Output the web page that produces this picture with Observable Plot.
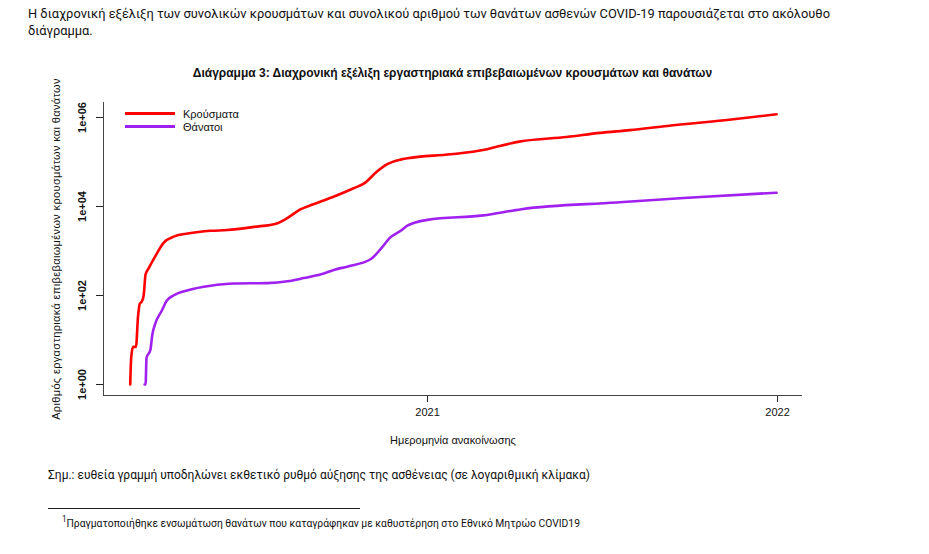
<!DOCTYPE html>
<html><head><meta charset="utf-8">
<script src="https://cdn.jsdelivr.net/npm/d3@7"></script>
<script src="https://cdn.jsdelivr.net/npm/@observablehq/plot@0.6"></script>
<style>
body{margin:0;background:#fff;}
#page{position:relative;width:929px;height:554px;overflow:hidden;font-family:"Roboto","Noto Sans",sans-serif;color:#111;}
.fit{position:absolute;white-space:nowrap;transform-origin:0 0;display:inline-block;}
.intro{font-size:13.5px;}
#t1{left:28px;top:5px;}
#t2{left:28px;top:22px;}
#title{position:absolute;top:66px;left:0;width:905px;text-align:center;font:bold 12px "Liberation Sans",Arial,sans-serif;}
#chart{position:absolute;left:0;top:60px;}
#ylab{position:absolute;left:56px;top:249px;transform:translate(-50%,-50%) rotate(-90deg);white-space:nowrap;font:11px "Liberation Sans",Arial,sans-serif;letter-spacing:0.35px;color:#111;}
#legend{position:absolute;left:125px;top:107px;font:11px "Liberation Sans",Arial,sans-serif;}
#legend div{height:13px;display:flex;align-items:center;}
#legend span.sw{display:inline-block;width:50px;height:3px;margin-right:8px;}
#note{left:48px;top:466px;font-size:13.5px;}
#rule{position:absolute;left:48px;top:508px;width:312px;border-top:1px solid #222;}
#foot{left:62px;top:514px;font-size:11px;}
#foot sup{font-size:8.5px;}
</style></head>
<body>
<div id="page">
  <span class="fit intro" id="t1" data-w="802">Η διαχρονική εξέλιξη των συνολικών κρουσμάτων και συνολικού αριθμού των θανάτων ασθενών COVID-19 παρουσιάζεται στο ακόλουθο</span>
  <span class="fit intro" id="t2" data-same="t1">διάγραμμα.</span>
  <div id="title">Διάγραμμα 3: Διαχρονική εξέλιξη εργαστηριακά επιβεβαιωμένων κρουσμάτων και θανάτων</div>
  <div id="chart"></div>
  <div id="ylab"></div>
  <div id="legend"></div>
  <span class="fit" id="note" data-w="542">Σημ.: ευθεία γραμμή υποδηλώνει εκθετικό ρυθμό αύξησης της ασθένειας (σε λογαριθμική κλίμακα)</span>
  <div id="rule"></div>
  <span class="fit" id="foot" data-w="518"><sup>1</sup>Πραγματοποιήθηκε ενσωμάτωση θανάτων που καταγράφηκαν με καθυστέρηση στο Εθνικό Μητρώο COVID19</span>
</div>
<script>
// ---- data ----
const casesDates = ["2020-02-26","2020-02-27","2020-02-29","2020-03-03","2020-03-05","2020-03-07","2020-03-09","2020-03-11","2020-03-13","2020-03-16","2020-03-22","2020-04-01","2020-04-12","2020-04-26","2020-05-20","2020-06-06","2020-07-04","2020-07-28","2020-08-06","2020-08-22","2020-09-04","2020-09-25","2020-10-16","2020-10-27","2020-11-09","2020-11-20","2020-12-04","2020-12-11","2021-01-25","2021-02-28","2021-03-17","2021-04-08","2021-05-26","2021-06-30","2021-07-31","2021-09-08","2021-11-16","2021-12-31"];
const casesValues = [1,4,7,7,31,66,73,100,300,400,690,1550,2130,2470,2840,2950,3480,4170,5200,8700,11200,16600,25700,33000,60000,89000,113000,121000,149000,186000,229000,290000,364000,450000,520000,646000,910000,1180000];
const deathsDates = ["2020-03-12","2020-03-13","2020-03-14","2020-03-18","2020-03-20","2020-03-23","2020-03-30","2020-04-04","2020-04-11","2020-04-27","2020-05-20","2020-06-13","2020-07-18","2020-08-08","2020-08-25","2020-09-12","2020-09-26","2020-10-10","2020-11-03","2020-11-13","2020-11-23","2020-12-04","2020-12-11","2021-01-01","2021-02-28","2021-04-09","2021-07-17","2021-09-25","2021-12-31"];
const deathsValues = [1,1,4,6,13,23,46,76,100,133,166,186,190,208,246,300,380,450,660,1100,2000,2840,3700,5000,6300,8700,12300,15500,20400];
const seriesNames = ["Κρούσματα","Θάνατοι"];
const seriesColors = ["#ff0000","#a020f0"];
const yTicks = [1,100,10000,1000000];
const yTickLabels = ["1e+00","1e+02","1e+04","1e+06"];
const xTicks = ["2021-01-01","2022-01-01"];
const xTickLabels = ["2021","2022"];
const xLabel = "Ημερομηνία ανακοίνωσης";
const yLabel = "Αριθμός εργαστηριακά επιβεβαιωμένων κρουσμάτων και θανάτων";

const cases = casesDates.map((d,i)=>({date:new Date(d), value:casesValues[i], series:seriesNames[0]}));
const deaths = deathsDates.map((d,i)=>({date:new Date(d), value:deathsValues[i], series:seriesNames[1]}));
const xDomain = [new Date("2020-01-29T03:00Z"), new Date("2022-01-27T00:00Z")];
const yDomain = [0.566, 2.17e6];

const chart = Plot.plot({
  width: 929, height: 395,
  marginLeft: 103, marginRight: 127, marginTop: 42, marginBottom: 60,
  style: {fontFamily: "'Liberation Sans', Arial, sans-serif", fontSize: "11px", background: "transparent", color: "#111", overflow: "visible"},
  x: {type: "utc", domain: xDomain},
  y: {type: "log", domain: yDomain},
  color: {domain: seriesNames, range: seriesColors},
  marks: [
    Plot.axisY({ticks: yTicks, tickFormat: d => yTickLabels[yTicks.indexOf(d)], tickRotate: -90, tickSize: 7, tickPadding: 11, label: null, fontWeight: "bold", stroke: "#222"}),
    Plot.axisX({ticks: xTicks.map(d=>new Date(d)), tickFormat: d => xTickLabels[xTicks.indexOf(d.toISOString().slice(0,10))], tickSize: 7, tickPadding: 6, label: xLabel, labelAnchor: "center", labelArrow: "none", labelOffset: 48, stroke: "#222"}),
    Plot.ruleX([xDomain[0]], {stroke: "#444"}),
    Plot.ruleY([yDomain[0]], {stroke: "#444"}),
    Plot.lineY(cases, {x: "date", y: "value", stroke: "series", strokeWidth: 2.6, curve: "monotone-x"}),
    Plot.lineY(deaths, {x: "date", y: "value", stroke: "series", strokeWidth: 2.6, curve: "monotone-x"})
  ]
});
document.getElementById("chart").appendChild(chart);
document.getElementById("ylab").textContent = yLabel;

const legend = document.getElementById("legend");
seriesNames.forEach((n,i)=>{
  const row = document.createElement("div");
  row.innerHTML = `<span class="sw" style="background:${seriesColors[i]}"></span>${n}`;
  legend.appendChild(row);
});

// fit narrow-font texts to the widths seen in the reference
const scales = {};
document.querySelectorAll(".fit").forEach(el=>{
  if (el.dataset.same) return;
  const target = +el.dataset.w;
  const w = el.getBoundingClientRect().width;
  if (w > 0) { scales[el.id] = target / w; el.style.transform = `scaleX(${target / w})`; }
});
document.querySelectorAll(".fit[data-same]").forEach(el=>{
  const s = scales[el.dataset.same];
  if (s) el.style.transform = `scaleX(${s})`;
});
</script>
</body></html>
